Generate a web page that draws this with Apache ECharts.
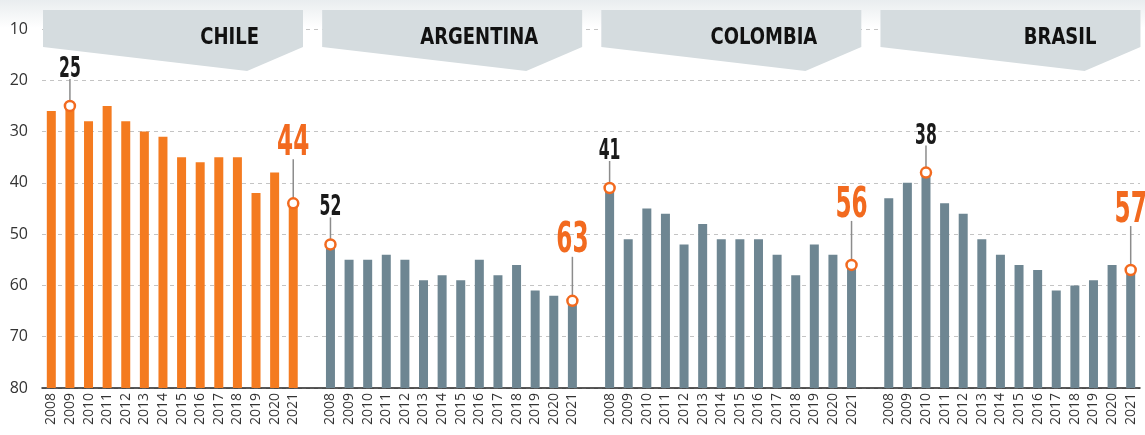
<!DOCTYPE html>
<html>
<head>
<meta charset="utf-8">
<script src="https://cdn.jsdelivr.net/npm/echarts@6/dist/echarts.min.js"></script>
<style>
  html, body { margin: 0; padding: 0; background: #fff; }
  #chart { width: 1145px; height: 435px; }
</style>
</head>
<body>
<div id="chart"></div>
<script>
// Ranking by country, 2008-2021 (lower is better, axis inverted)
var years = ['2008', '2009', '2010', '2011', '2012', '2013', '2014', '2015', '2016', '2017', '2018', '2019', '2020', '2021'];
var countries = ['CHILE', 'ARGENTINA', 'COLOMBIA', 'BRASIL'];
var chile = [26, 25, 28, 25, 28, 30, 31, 35, 36, 35, 35, 42, 38, 44];
var argentina = [52, 55, 55, 54, 55, 59, 58, 59, 55, 58, 56, 61, 62, 63];
var colombia = [41, 51, 45, 46, 52, 48, 51, 51, 51, 54, 58, 52, 54, 56];
var brasil = [43, 40, 38, 44, 46, 51, 54, 56, 57, 61, 60, 59, 56, 57];
var yTicks = [10, 20, 30, 40, 50, 60, 70, 80];
// highlighted years per country (index into years): best rank, latest
var bestIdx = [1, 0, 0, 2];
var lastIdx = [13, 13, 13, 13];

(function() {
  var orange = '#f47b20';
  var slate = '#6e8692';
  var ink = '#1a1a1a';
  var marker = '#f26a1f';
  var banner = '#d5dcdf';
  var numFont = '"Liberation Sans Narrow", "Arial Narrow", "DejaVu Sans Condensed", sans-serif';

  var all = [chile, argentina, colombia, brasil];
  var slot = years.length + 1;
  var yMin = yTicks[0], yMax = yTicks[yTicks.length - 1];

  // one category axis: 14 years per country, one empty slot between
  var cats = [], base = [], rest = [];
  all.forEach(function(vals, c) {
    if (c > 0) { cats.push(''); base.push('-'); rest.push('-'); }
    vals.forEach(function(v, i) {
      cats.push(years[i]);
      base.push(v);
      rest.push({ value: yMax - v, itemStyle: { color: c === 0 ? orange : slate } });
    });
  });

  var notes = [];
  all.forEach(function(vals, c) {
    notes.push([c * slot + bestIdx[c], vals[bestIdx[c]], 0]);
    notes.push([c * slot + lastIdx[c], vals[lastIdx[c]], 1]);
  });

  var chart = echarts.init(document.getElementById('chart'), null, { renderer: 'canvas' });

  // banners sit over the first 14 slots of each panel
  var gridLeft = 42, gridRight = 5;
  var step = (1145 - gridLeft - gridRight) / cats.length;
  var graphics = [{
    type: 'rect', z: -10, silent: true,
    shape: { x: 0, y: 0, width: 1145, height: 28 },
    style: { fill: new echarts.graphic.LinearGradient(0, 0, 0, 1, [
      { offset: 0, color: '#e9edef' }, { offset: 1, color: '#ffffff' }]) }
  }];
  countries.forEach(function(name, c) {
    var x0 = gridLeft + c * slot * step + 1;
    var w = 260;
    graphics.push({
      type: 'polygon', z: 10, silent: true,
      shape: { points: [[x0, 10], [x0 + w, 10], [x0 + w, 47], [x0 + w * 0.785, 71], [x0, 47]] },
      style: { fill: banner }
    });
    graphics.push({
      type: 'text', z: 11, silent: true,
      x: x0 + w - 44, y: 38, scaleX: 0.87,
      style: {
        text: name, fill: '#111', align: 'right', verticalAlign: 'middle',
        font: 'bold 23px ' + numFont
      }
    });
  });

  chart.setOption({
    animation: false,
    backgroundColor: '#ffffff',
    graphic: graphics,
    grid: { left: gridLeft, right: gridRight, top: 29, bottom: 47 },
    xAxis: {
      type: 'category',
      data: cats,
      axisTick: { show: false },
      axisLine: { lineStyle: { color: '#222', width: 1.5 } },
      axisLabel: {
        interval: 0, rotate: 90, margin: 5,
        color: '#333', fontSize: 14, fontFamily: '"Open Sans", sans-serif'
      }
    },
    yAxis: {
      type: 'value',
      inverse: true,
      min: yMin, max: yMax, interval: 10,
      axisLine: { show: false },
      axisTick: { show: false },
      axisLabel: { color: '#333', fontSize: 16, margin: 14, fontFamily: '"Open Sans", sans-serif' },
      splitLine: { lineStyle: { color: '#c4c4c4', type: [4, 4], width: 1 } }
    },
    series: [
      {
        type: 'bar', stack: 'rank', data: base, barWidth: 9,
        itemStyle: { color: 'transparent' }, silent: true
      },
      {
        type: 'bar', stack: 'rank', data: rest, barWidth: 9, silent: true
      },
      {
        type: 'custom',
        data: notes,
        z: 5,
        silent: true,
        renderItem: function(params, api) {
          var p = api.coord([api.value(0), api.value(1)]);
          var big = api.value(2) === 1;
          var len = big ? 38 : 21;
          var gap = big ? -6 : -5;
          var top = p[1] - 6 - len;
          return {
            type: 'group',
            children: [
              { type: 'line', shape: { x1: p[0], y1: p[1] - 5, x2: p[0], y2: top },
                style: { stroke: '#8c8c8c', lineWidth: 1.5 } },
              { type: 'circle', shape: { cx: p[0], cy: p[1], r: 5 },
                style: { fill: '#fff', stroke: marker, lineWidth: 2.5 } },
              { type: 'text', x: p[0], y: top - gap, scaleX: 0.6,
                style: {
                  text: String(api.value(1)),
                  fill: big ? marker : ink,
                  align: 'center', verticalAlign: 'bottom',
                  font: 'bold ' + (big ? 43 : 29) + 'px ' + numFont
                } }
            ]
          };
        }
      }
    ]
  });
  window.addEventListener('resize', function() { chart.resize(); });
})();
</script>
</body>
</html>
